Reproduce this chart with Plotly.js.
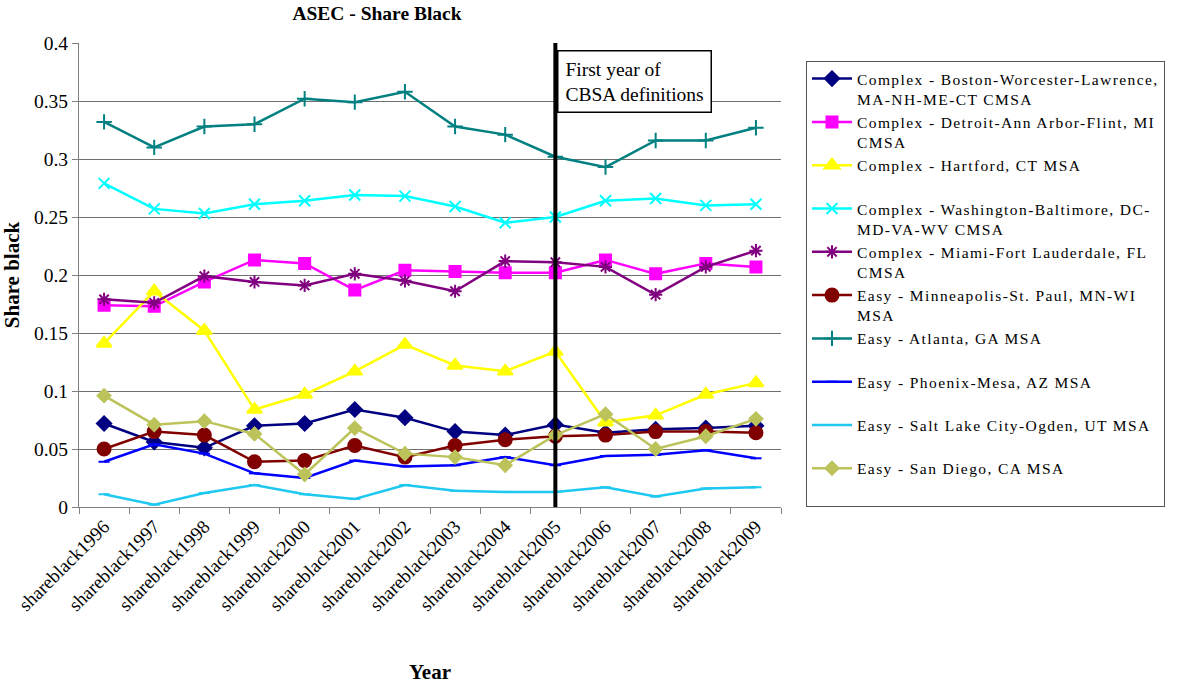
<!DOCTYPE html>
<html>
<head>
<meta charset="utf-8">
<script src="https://cdn.plot.ly/plotly-3.0.1.min.js"></script>
<style>html,body{margin:0;padding:0;background:#fff;}#chart{width:1200px;height:684px;}
.legendtext{letter-spacing:1.4px;}</style>
</head>
<body>
<div id="chart"></div>
<script>
const years = ["shareblack1996","shareblack1997","shareblack1998","shareblack1999","shareblack2000","shareblack2001","shareblack2002","shareblack2003","shareblack2004","shareblack2005","shareblack2006","shareblack2007","shareblack2008","shareblack2009"];

const boston      = [0.072,0.056,0.051,0.070,0.072,0.084,0.077,0.065,0.062,0.071,0.064,0.067,0.068,0.070];
const detroit     = [0.174,0.173,0.194,0.213,0.210,0.187,0.204,0.203,0.202,0.202,0.213,0.201,0.210,0.207];
const hartford    = [0.141,0.186,0.152,0.084,0.097,0.117,0.140,0.122,0.117,0.134,0.073,0.079,0.097,0.107];
const washington  = [0.279,0.257,0.253,0.261,0.264,0.269,0.268,0.259,0.245,0.250,0.264,0.266,0.260,0.261];
const miami       = [0.179,0.176,0.199,0.194,0.191,0.201,0.195,0.186,0.212,0.211,0.207,0.183,0.207,0.221];
const minneapolis = [0.050,0.065,0.062,0.039,0.040,0.053,0.043,0.053,0.058,0.061,0.062,0.065,0.065,0.064];
const atlanta     = [0.332,0.310,0.328,0.330,0.352,0.349,0.358,0.328,0.321,0.302,0.293,0.316,0.316,0.327];
const phoenix     = [0.039,0.054,0.046,0.029,0.025,0.040,0.035,0.036,0.043,0.036,0.044,0.045,0.049,0.042];
const saltlake    = [0.011,0.002,0.012,0.019,0.011,0.007,0.019,0.014,0.013,0.013,0.017,0.009,0.016,0.017];
const sandiego    = [0.096,0.071,0.074,0.063,0.028,0.068,0.046,0.043,0.036,0.062,0.080,0.050,0.061,0.076];

const names = [
  "Complex - Boston-Worcester-Lawrence,<br>MA-NH-ME-CT CMSA",
  "Complex - Detroit-Ann Arbor-Flint, MI<br>CMSA",
  "Complex - Hartford, CT MSA<br>&nbsp;",
  "Complex - Washington-Baltimore, DC-<br>MD-VA-WV CMSA",
  "Complex - Miami-Fort Lauderdale, FL<br>CMSA",
  "Easy - Minneapolis-St. Paul, MN-WI<br>MSA",
  "Easy - Atlanta, GA MSA<br>&nbsp;",
  "Easy - Phoenix-Mesa, AZ MSA<br>&nbsp;",
  "Easy - Salt Lake City-Ogden, UT MSA<br>&nbsp;",
  "Easy - San Diego, CA MSA<br>&nbsp;"
];
const series = [boston, detroit, hartford, washington, miami, minneapolis, atlanta, phoenix, saltlake, sandiego];
const colors = ["#000080","#FF00FF","#FFFF00","#00FFFF","#800080","#800000","#008080","#0000FF","#1EC8F0","#BCC35A"];
const symbols = ["diamond","square","triangle-up","x-thin-open","asterisk-open","circle","cross-thin-open","line-ew-open","line-ew-open","diamond"];
const sizes = [11,11,13,11,11,13,11,8,8,10];

const traces = series.map((s,i)=>({
  type:"scatter", mode:"lines+markers", x:years, y:s, name:names[i],
  line:{color:colors[i], width:2.5},
  marker:{color:colors[i], symbol:symbols[i], size:sizes[i], line:{color:colors[i], width:2}}
}));

// plot area in pixels: left 79, right 781, top 43, bottom 507
const PL=79, PR=781, PT=43, PB=507;
const px = v => (v-PL)/(PR-PL);
const py = v => (PB-v)/(PB-PT);

const layout = {
  width:1200, height:684,
  margin:{l:PL, r:1200-PR, t:PT, b:684-PB},
  paper_bgcolor:"#fff", plot_bgcolor:"#fff",
  font:{family:"Liberation Serif, Times New Roman, serif", size:18, color:"#000"},
  title:{text:"<b>ASEC - Share Black</b>", font:{size:19.5}, xref:"container", x:377/1200, xanchor:"center", yref:"container", y:1-13/684, yanchor:"middle"},
  xaxis:{
    type:"category", range:[-0.5, years.length-0.5], tickangle:-45, showline:true, linecolor:"#808080", linewidth:1,
    ticks:"outside", tickson:"boundaries", ticklen:6, tickcolor:"#808080",
    showgrid:false, zeroline:false, automargin:false,
    tickfont:{size:19},
    title:{text:"<b>Year</b>", font:{size:21}, standoff:50}
  },
  yaxis:{
    range:[0,0.4], dtick:0.05, showline:true, linecolor:"#808080", linewidth:1,
    ticks:"outside", ticklen:6, tickcolor:"#808080",
    showgrid:true, gridcolor:"#707070", gridwidth:1, zeroline:false, automargin:false,
    tickfont:{size:19.5},
    title:{text:"<b>Share black</b>", font:{size:21}, standoff:12}
  },
  legend:{
    xref:"container", yref:"container",
    x:806/1200, xanchor:"left", y:1-61/684, yanchor:"top",
    bordercolor:"#555", borderwidth:1, bgcolor:"#fff", maxheight:640,
    font:{size:15.5}, valign:"top", tracegroupgap:0, itemwidth:40
  },
  shapes:[{type:"line", xref:"x", yref:"y", x0:"shareblack2005", x1:"shareblack2005", y0:0, y1:0.4, line:{color:"#000", width:4}}],
  annotations:[
    {xref:"paper", yref:"paper", x:px(557), y:py(50), xanchor:"left", yanchor:"top",
     text:"First year of<br>CBSA definitions", align:"left", showarrow:false,
     bordercolor:"#000", borderwidth:1.5, bgcolor:"#fff", borderpad:7, font:{size:19.5}}
  ]
};

Plotly.newPlot("chart", traces, layout, {displayModeBar:false, staticPlot:true});
</script>
</body>
</html>
